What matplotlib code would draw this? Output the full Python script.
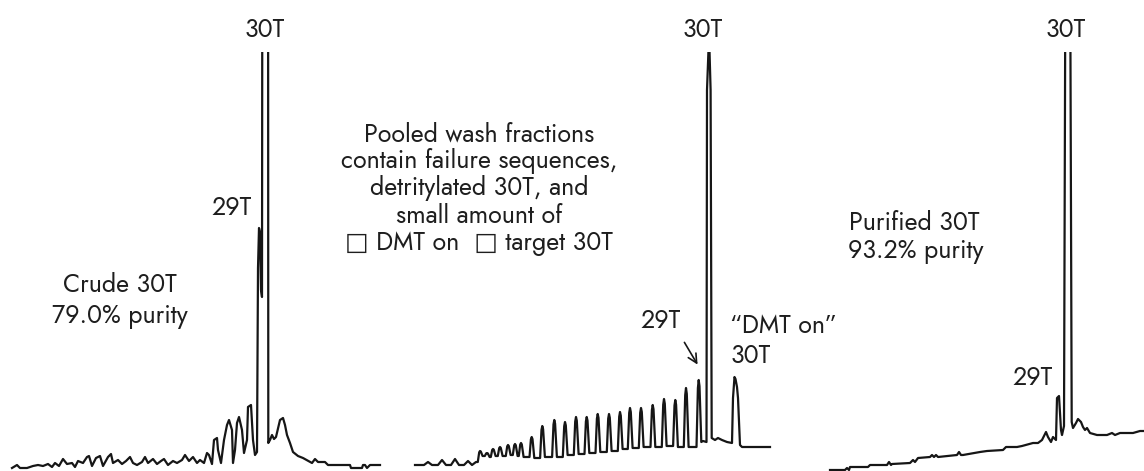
import matplotlib
matplotlib.use('Agg')
import matplotlib.pyplot as plt
from matplotlib.patches import Rectangle

W, H = 1144, 471

# --- crude 30T trace (retention position, signal) ---
crude_t = [12, 17, 20, 27, 33, 38, 43, 48, 52, 55, 59, 63, 67, 72, 75, 78, 83, 87, 89, 92,
           96, 100, 103, 108, 111, 113, 118, 122, 126, 130, 133, 137, 142, 145, 148, 153, 157,
           161, 164, 168, 173, 177, 182, 185, 189, 193, 197, 200, 204, 207, 209, 212, 214,
           217, 218, 221, 224, 227, 229, 232, 233, 235, 237, 239, 242, 244, 247, 248, 251,
           253, 255, 257, 258, 259, 260, 261, 262, 262.5, 268, 268.3, 270, 272, 274, 276,
           280, 283, 285, 287, 290, 293, 298, 303, 312, 315, 318, 325, 328, 350, 351, 362,
           363, 365, 367, 370, 380]
crude_s = [3, 6, 3, 3, 5, 6, 5, 7, 4, 8, 5, 12, 7, 8, 4, 10, 8, 14, 15, 5,
           13, 15, 5, 14, 17, 8, 11, 7, 10, 14, 8, 6, 9, 14, 8, 12, 7,
           10, 12, 6, 10, 8, 11, 16, 10, 14, 8, 11, 8, 18, 16, 7, 31,
           33, 21, 8, 31, 46, 51, 41, 8, 21, 48, 54, 41, 18, 31, 64, 66,
           31, 16, 19, 203, 243, 239, 181, 174, 700, 700, 28, 31, 36, 32, 34,
           51, 53, 46, 36, 28, 19, 15, 13, 8, 12, 9, 9, 6, 6, 3, 3,
           6, 6, 3, 6, 6]

# --- pooled wash fractions ---
wash_lead_t = [415, 424, 428, 432, 438, 442, 446, 451, 455, 459, 464, 468, 472, 476]
wash_lead_s = [6, 6, 9, 6, 6, 11, 6, 6, 12, 6, 6, 10, 6, 9]
wash_peak_t = [480, 487, 493, 500, 508, 515, 521, 531.7, 542.3, 554.3, 565, 576, 586.7,
               597.7, 609, 620, 630, 641, 652.7, 664, 675.3, 686, 698.7]
wash_peak_s = [20, 18, 22, 24, 26, 27, 28, 34, 45, 51, 49, 54, 54, 57, 57, 59, 63, 63,
               66, 72, 71, 83, 91]
wash_valley_s = [15, 14, 15, 15, 16, 15, 14, 13, 14, 14, 16, 17, 18, 19, 20, 22, 23, 24,
                 24, 25, 24, 24, 29]
wash_tail_t = [703, 706.5, 707, 708.6, 709.4, 710.6, 711.7, 715, 718, 722, 727, 732, 733,
               734.5, 735.5, 737, 738, 740, 742, 770]
wash_tail_s = [30, 29, 381, 424, 424, 381, 33, 31, 33, 31, 29, 28, 73, 94, 92, 84, 73,
               26, 24, 24]

# --- purified 30T ---
pure_t = [830, 845, 847, 849, 850, 868, 870, 887, 889, 891, 892, 910, 913, 915, 918, 930,
          932, 934, 936, 938, 957, 959, 961, 963, 980, 987, 1003, 1006, 1017, 1022, 1033,
          1038, 1042, 1046, 1048, 1051, 1053, 1056, 1057, 1059, 1061, 1062, 1064, 1066,
          1069.5, 1071.7, 1073, 1076, 1078, 1081, 1083, 1085, 1087, 1090, 1097, 1107, 1112,
          1115, 1120, 1133, 1140, 1144]
pure_s = [1, 1, 3, 1, 4, 4, 6, 6, 9, 6, 7, 8, 11, 9, 13, 14,
          16, 14, 16, 14, 16, 19, 16, 16, 19, 20, 21, 24, 24, 25, 28,
          28, 31, 39, 34, 29, 34, 31, 73, 75, 41, 36, 45, 700,
          700, 49, 43, 48, 52, 49, 44, 41, 43, 38, 36, 36, 38,
          36, 38, 38, 40, 40]

# build the wash trace: lead-in, comb of failure peaks, then 30T + DMT-on
wash_t = list(wash_lead_t)
wash_s = list(wash_lead_s)
prev = wash_lead_s[-1]
for t, top, v in zip(wash_peak_t, wash_peak_s, wash_valley_s):
    wash_t += [t - 2.2, t - 0.8, t, t + 0.8, t + 1.7, t + 2.6]
    wash_s += [prev, prev + 0.88 * (top - prev), top,
               v + 0.9 * (top - v), v + 0.45 * (top - v), v]
    prev = v
wash_t += wash_tail_t
wash_s += wash_tail_s

fig = plt.figure(figsize=(W / 100, H / 100), dpi=100)
ax = fig.add_axes([0, 0, 1, 1])
ax.set_xlim(0, W)
ax.set_ylim(0, H)
ax.axis('off')

ink = '#161616'
clip_top = H - 52
for t, s, x0, x1 in [(crude_t, crude_s, 0, 400),
                     (wash_t, wash_s, 400, 790),
                     (pure_t, pure_s, 790, W)]:
    line, = ax.plot(t, s, color=ink, lw=1.6, solid_joinstyle='round')
    line.set_clip_path(Rectangle((x0, -20), x1 - x0, clip_top + 20, transform=ax.transData))

font = ['Jost', 'DejaVu Sans']
tcol = '#1e1e1e'


def label(x, y, s, ha='center', size=18):
    # y is measured from the top edge, text sits on its baseline
    ax.text(x, H - y, s, ha=ha, va='baseline', fontsize=size, color=tcol, family=font)


label(265, 37, '30T')
label(232, 215, '29T')
label(120, 292, 'Crude 30T')
label(120, 323, '79.0% purity')

wash_lines = ['Pooled wash fractions', 'contain failure sequences,',
              'detritylated 30T, and', 'small amount of', '\u25a1 DMT on  \u25a1 target 30T']
for i, s in enumerate(wash_lines):
    label(479, 141 + 27.2 * i, s)

label(703, 37, '30T')
label(661, 328, '29T')
label(730, 333, '\u201cDMT on\u201d', ha='left')
label(730, 363, '30T', ha='left')
ax.annotate('', xy=(699, H - 367), xytext=(683, H - 340),
            arrowprops=dict(arrowstyle='->', lw=1.2, color=ink, mutation_scale=16))

label(914, 230, 'Purified 30T')
label(916, 258, '93.2% purity')
label(1033, 385, '29T')
label(1066, 37, '30T')

fig.savefig('out.png', dpi=100, facecolor='white')
